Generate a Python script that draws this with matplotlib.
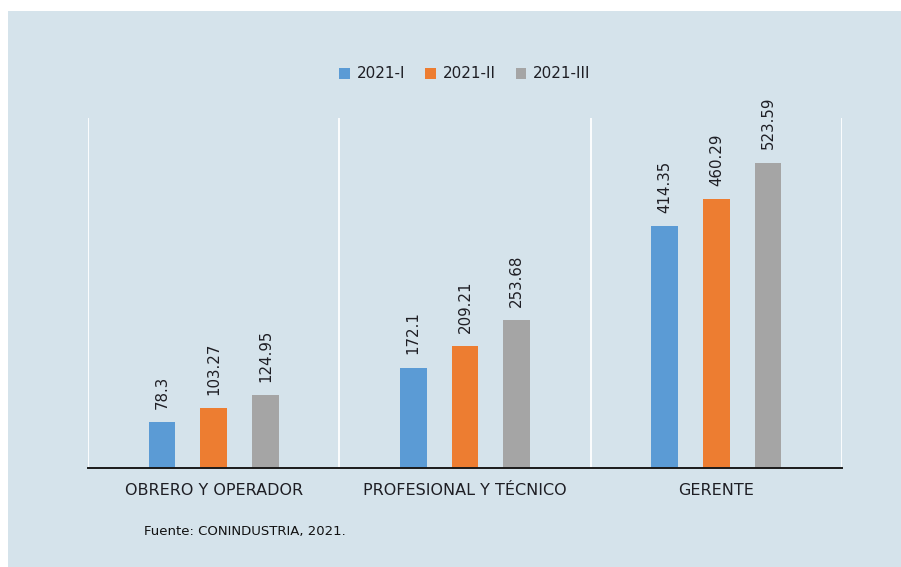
import matplotlib
matplotlib.use("Agg")
import matplotlib.pyplot as plt
from matplotlib.patches import Rectangle
import numpy as np

# Datos
categorias = ["OBRERO Y OPERADOR", "PROFESIONAL Y TÉCNICO", "GERENTE"]
periodos = ["2021-I", "2021-II", "2021-III"]
valores_2021_I = [78.3, 172.1, 414.35]
valores_2021_II = [103.27, 209.21, 460.29]
valores_2021_III = [124.95, 253.68, 523.59]
fuente = "Fuente: CONINDUSTRIA, 2021."

series = [valores_2021_I, valores_2021_II, valores_2021_III]
colores = ["#5b9bd5", "#ed7d31", "#a5a5a5"]
fondo = "#d5e3eb"
texto = "#1e1e24"

plt.rcParams["font.family"] = ["DejaVu Sans"]

fig = plt.figure(figsize=(9.01, 5.67), dpi=100)
fig.patch.set_facecolor("white")

# Panel de fondo
fig.patches.append(Rectangle((8 / 901, 0), 1 - 8 / 901, 1 - 11 / 567,
                             transform=fig.transFigure, facecolor=fondo,
                             edgecolor="none", zorder=-10))

ax = fig.add_axes([88 / 901, 1 - 468 / 567, (842 - 88) / 901, (468 - 118) / 567])
ax.patch.set_visible(False)
ax.set_zorder(2)

x = np.arange(len(categorias))
ancho = 0.106
paso = 0.206
for i, (vals, col, lab) in enumerate(zip(series, colores, periodos)):
    pos = x + (i - 1) * paso
    barras = ax.bar(pos, vals, width=ancho, color=col, label=lab, zorder=3)
    for b, v in zip(barras, vals):
        ax.annotate(f"{v:g}", (b.get_x() + b.get_width() / 2, v),
                    xytext=(0, 9.5), textcoords="offset points",
                    rotation=90, ha="center", va="bottom",
                    fontsize=10.8, color=texto)

ax.set_xlim(-0.5, len(categorias) - 0.5)
ax.set_ylim(0, 600)

# Separadores verticales entre categorías
for s in np.arange(-0.5, len(categorias), 1.0):
    ax.axvline(s, color="white", lw=1.3, zorder=1)

for side in ["top", "left", "right"]:
    ax.spines[side].set_visible(False)
ax.spines["bottom"].set_color("#1a1a1a")
ax.spines["bottom"].set_linewidth(1.4)
ax.spines["bottom"].set_zorder(4)

ax.set_yticks([])
ax.set_xticks(x)
ax.set_xticklabels(categorias, fontsize=11.5, color=texto)
ax.tick_params(axis="x", length=0, pad=11)

fig.legend(loc="center", bbox_to_anchor=(465 / 901, 1 - 74 / 567), ncol=3,
           frameon=False, fontsize=11, handlelength=0.7, handleheight=0.7,
           handletextpad=0.45, columnspacing=1.3, labelcolor=texto)

fig.text(144 / 901, 1 - 532 / 567, fuente, fontsize=9.5, color="#111111",
         ha="left", va="center")

fig.savefig("out.png", dpi=100, facecolor=fig.get_facecolor())
